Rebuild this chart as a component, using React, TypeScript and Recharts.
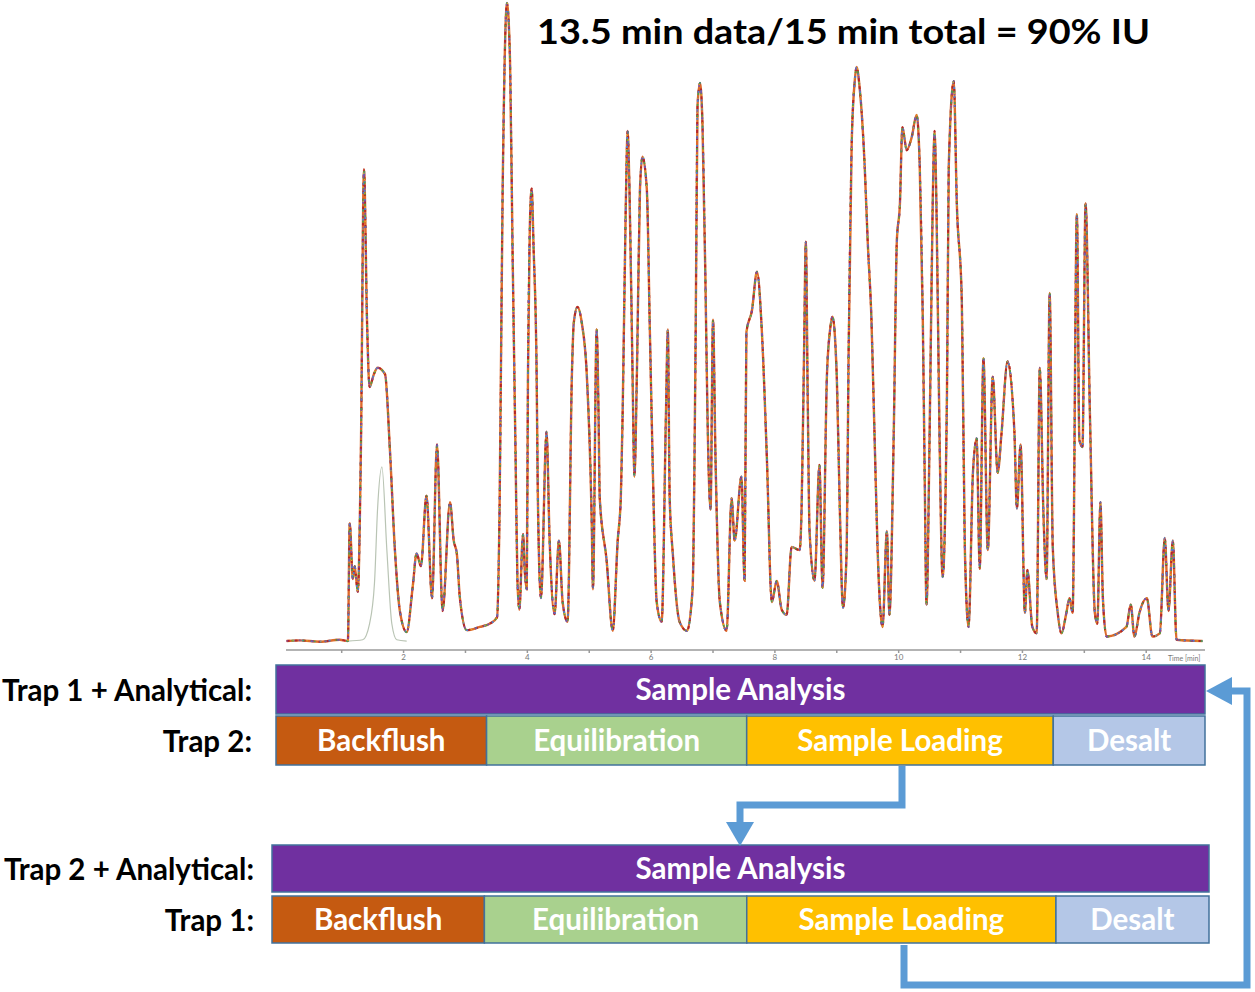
import React from 'react';
import { LineChart, Line, XAxis, YAxis, BarChart, Bar, LabelList } from 'recharts';

// chromatogram, retention time (min) and relative intensity (%)
const times = [
  0.11, 0.32, 0.65, 0.97, 1.10, 1.13, 1.18, 1.21, 1.26, 1.31, 1.36, 1.41, 1.45, 1.52, 1.58, 1.70, 1.78, 1.86, 1.94, 2.05,
  2.15, 2.21, 2.28, 2.37, 2.46, 2.54, 2.63, 2.75, 2.81, 2.86, 2.91, 3.02, 3.23, 3.39, 3.51, 3.55, 3.60, 3.67, 3.72, 3.76,
  3.81, 3.84, 3.87, 3.93, 3.96, 3.99, 4.01, 4.04, 4.07, 4.10, 4.15, 4.17, 4.22, 4.31, 4.36, 4.44, 4.51, 4.57, 4.65, 4.72,
  4.75, 4.81, 4.88, 4.96, 5.04, 5.06, 5.12, 5.15, 5.17, 5.28, 5.38, 5.46, 5.51, 5.54, 5.59, 5.62, 5.65, 5.70, 5.73, 5.77,
  5.82, 5.86, 5.93, 5.98, 6.03, 6.09, 6.17, 6.24, 6.27, 6.30, 6.35, 6.46, 6.58, 6.67, 6.72, 6.75, 6.79, 6.83, 6.88, 6.91,
  6.96, 7.00, 7.04, 7.11, 7.22, 7.30, 7.35, 7.46, 7.51, 7.54, 7.63, 7.71, 7.79, 7.87, 7.95, 8.03, 8.11, 8.19, 8.27, 8.40,
  8.43, 8.47, 8.50, 8.53, 8.56, 8.64, 8.72, 8.77, 8.84, 8.89, 8.93, 9.00, 9.05, 9.10, 9.16, 9.19, 9.24, 9.29, 9.32, 9.37,
  9.45, 9.50, 9.56, 9.61, 9.66, 9.74, 9.81, 9.85, 9.92, 9.97, 10.02, 10.06, 10.13, 10.21, 10.29, 10.34, 10.39, 10.42, 10.45, 10.50,
  10.55, 10.58, 10.61, 10.66, 10.71, 10.78, 10.81, 10.89, 10.94, 11.02, 11.07, 11.13, 11.20, 11.26, 11.31, 11.37, 11.44, 11.52, 11.60, 11.66,
  11.76, 11.87, 11.91, 11.97, 12.04, 12.08, 12.16, 12.23, 12.28, 12.34, 12.39, 12.44, 12.49, 12.57, 12.63, 12.71, 12.76, 12.81, 12.88, 12.92,
  12.97, 13.02, 13.09, 13.17, 13.21, 13.26, 13.30, 13.36, 13.68, 13.75, 13.81, 13.89, 14.01, 14.10, 14.22, 14.30, 14.36, 14.43, 14.49, 14.91,
];
const intensity = [
  0.3, 0.4, 0.2, 0.5, 0.3, 18.7, 10, 12, 8, 30, 74, 50, 40, 42, 43, 42, 30, 14.5, 5, 1.7,
  9, 14, 12, 23, 7, 31, 5, 22, 16, 14, 7, 2, 2.5, 3, 4, 20, 70, 100, 91, 62,
  29, 9.7, 5.2, 17, 11, 8.4, 42, 65, 71, 62, 42, 22.6, 7, 33, 16, 4.5, 16, 6.4, 3.3, 42,
  50, 52.5, 50, 42, 19, 8.4, 49, 36, 22.6, 13, 1.9, 16, 22.6, 36, 68, 80, 71, 42, 26, 42,
  71, 76, 71, 48.6, 26, 6.4, 3.3, 36, 49, 22.6, 14, 3.3, 1.9, 8.4, 48.6, 84, 87.5, 81, 55, 36,
  20.8, 50.5, 29, 6.4, 1.9, 22.6, 16, 26, 9.7, 48.6, 52, 58, 48.6, 29, 6.4, 9.7, 5.2, 4.4, 15, 14.5,
  20.5, 44.5, 62.7, 38.6, 17.5, 9.7, 27.8, 8.6, 41.6, 48.8, 51, 41.6, 20.5, 5.5, 14.5, 44.5, 77.6, 87.8, 90, 86.7,
  74.7, 62.7, 50.6, 32.5, 14.5, 2.5, 17.5, 4.4, 32.5, 62.7, 68.6, 80.6, 77, 79, 82.5, 74.7, 50.6, 26.6, 6, 32.5,
  68.6, 80, 68.6, 32.5, 10.3, 38.6, 74.7, 87.8, 68.6, 53.6, 14.5, 2.5, 26.6, 32, 11.6, 44.5, 14.5, 41.6, 26.6, 32.5,
  44, 33, 21, 31, 4.7, 11.4, 2.5, 1.5, 43, 20, 10, 54.7, 15, 4.7, 1.5, 4.7, 7, 4.7, 67, 31.7,
  30.6, 68.7, 36, 4.7, 3, 22, 7, 1, 2.5, 6, 1, 4.7, 7, 1, 1.5, 16.4, 5, 16, 0.5, 0.3,
];

// faint grey trace under the first eluting peaks
const blankTimes = [1.10, 1.34, 1.45, 1.53, 1.58, 1.65, 1.73, 1.81, 1.89, 2.05];
const blankIntensity = [0.3, 0.5, 3, 9.4, 21, 27.5, 14.5, 3, 0.5, 0.3];

const axisTicks = [1, 2, 3, 4, 5, 6, 7, 8, 9, 10, 11, 12, 13, 14];

// one LC cycle, minutes per step
const cycleMinutes = 15;
const phases = ['Backflush', 'Equilibration', 'Sample Loading', 'Desalt'];
const phaseMinutes = [3.4, 4.2, 4.95, 2.45];
const phaseColors = ['#C55A11', '#A9D18E', '#FFC000', '#B4C7E7'];

const trace = times.map((t, i) => ({ t, v: intensity[i] }));
const blank = blankTimes.map((t, i) => ({ t, b: blankIntensity[i] }));

// overlaid replicate runs, drawn as speckled colours on top of each other
const runs = [
  { color: '#DD6A2C', dash: undefined, offset: 0, w: 2.4 },
  { color: '#B2262A', dash: '3 5', offset: 0, w: 2 },
  { color: '#4C7FD0', dash: '2 7', offset: 3, w: 1.8 },
  { color: '#4E9F4A', dash: '2 9', offset: 6, w: 1.7 },
  { color: '#7F4FA6', dash: '2 11', offset: 1, w: 1.7 },
  { color: '#D9B21C', dash: '1 13', offset: 8, w: 1.5 },
];

const FONT = 'Lato, "Open Sans", sans-serif';

function segmentLabel(name: string) {
  return (props: any) => {
    const box = props.viewBox || props;
    const { x, y, width, height } = box;
    if (!(width > 2)) return null;
    return (
      <text x={x + width / 2} y={y + height / 2 + 10} textAnchor="middle" fill="#fff"
        fontFamily={FONT} fontWeight={700} fontSize={29.5}>
        {name}
      </text>
    );
  };
}

function Schedule({ top, left, right, rows, labelEnd, gap }: any) {
  const stepRow: any = { row: rows[1] };
  phases.forEach((p, i) => { stepRow[p] = phaseMinutes[i]; });
  const data = [{ row: rows[0], analysis: cycleMinutes }, stepRow];
  const rowTick = (p: any) => (
    <text x={labelEnd} y={p.y + 11} textAnchor="end" fill="#000" fontFamily={FONT} fontWeight={700} fontSize={29.5}>
      {p.payload.value}
    </text>
  );
  return (
    <div style={{ position: 'absolute', left: 0, top }}>
      <BarChart width={1255} height={112} data={data} layout="vertical" barCategoryGap={gap}
        margin={{ top: 5, right: 1255 - right, bottom: 5, left: 0 }}>
        <XAxis type="number" domain={[0, cycleMinutes]} hide />
        <YAxis type="category" dataKey="row" width={left} axisLine={false} tickLine={false} tick={rowTick} />
        <Bar dataKey="analysis" stackId="s" fill="#7030A0" stroke="#41719C" strokeWidth={1.5} isAnimationActive={false}>
          <LabelList content={segmentLabel('Sample Analysis')} />
        </Bar>
        {phases.map((p, i) => (
          <Bar key={p} dataKey={p} stackId="s" fill={phaseColors[i]} stroke="#41719C" strokeWidth={1.5} isAnimationActive={false}>
            <LabelList content={segmentLabel(p)} />
          </Bar>
        ))}
      </BarChart>
    </div>
  );
}

export default function App() {
  return (
    <div style={{ position: 'absolute', left: 0, top: 0, width: 1255, height: 992, background: '#fff', overflow: 'hidden' }}>
      <div style={{ position: 'absolute', left: 0, top: 0 }}>
        <LineChart width={1255} height={672} data={trace} margin={{ top: 3, right: 50, bottom: 8, left: 286 }}>
          <XAxis type="number" dataKey="t" domain={[0.1, 14.95]} ticks={axisTicks} allowDataOverflow
            tickFormatter={(v: number) => (v % 2 === 0 ? String(v) : '')}
            height={14} stroke="#9a9a9a" strokeWidth={1.5} tickSize={3} tickMargin={1}
            tick={{ fontSize: 8, fill: '#777', fontFamily: FONT }} />
          <YAxis hide domain={[-1.1, 100]} />
          <Line data={blank} dataKey="b" type="monotone" stroke="#B9C4B4" strokeWidth={1.2} dot={false} isAnimationActive={false} />
          {runs.map((r, i) => (
            <Line key={i} dataKey="v" type="monotone" stroke={r.color} strokeWidth={r.w}
              strokeDasharray={r.dash} strokeDashoffset={r.offset} dot={false} isAnimationActive={false} />
          ))}
        </LineChart>
      </div>

      <Schedule top={659} left={276} right={1205} rows={['Trap 1 + Analytical:', 'Trap 2:']} labelEnd={252} gap={1} />
      <Schedule top={838} left={272} right={1209} rows={['Trap 2 + Analytical:', 'Trap 1:']} labelEnd={254} gap={2} />

      <svg width={1255} height={992} style={{ position: 'absolute', left: 0, top: 0, pointerEvents: 'none' }}>
        <text x={537} y={44} fontFamily={FONT} fontWeight={700} fontSize={35} fill="#000" textLength={613} lengthAdjust="spacingAndGlyphs">
          13.5 min data/15 min total = 90% IU
        </text>
        <text x={1168} y={661} fontFamily={FONT} fontSize={7} fill="#777">Time [min]</text>
        <g stroke="#5B9BD5" strokeWidth={7} fill="none">
          <polyline points="902,766 902,805 740,805 740,824" />
          <polyline points="904,945 904,985 1247,985 1247,691 1230,691" />
        </g>
        <g fill="#5B9BD5">
          <polygon points="726,822 754,822 740,846" />
          <polygon points="1232,677 1232,705 1206,691" />
        </g>
      </svg>
    </div>
  );
}
